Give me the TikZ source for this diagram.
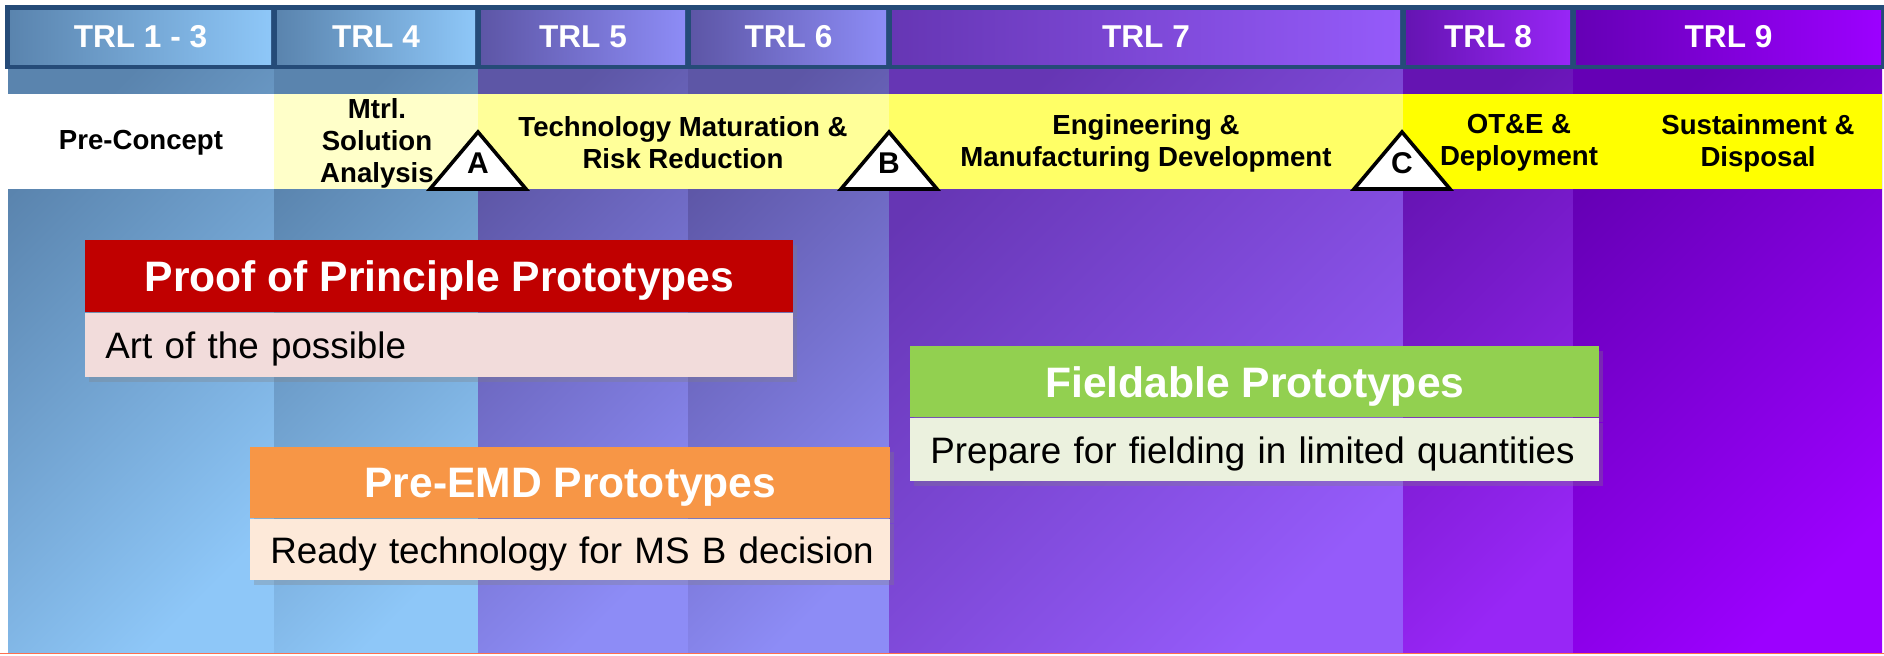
\documentclass[tikz,border=0pt]{standalone}
\usepackage{fontspec}
\setmainfont{Liberation Sans}
\usetikzlibrary{shadows}
\definecolor{hdrline}{HTML}{254B78}
\definecolor{blueA}{HTML}{5A84AE}
\definecolor{blueB}{HTML}{8EC7F8}
\definecolor{indA}{HTML}{5D56A6}
\definecolor{indB}{HTML}{8D8CF6}
\definecolor{purA}{HTML}{6636B4}
\definecolor{purB}{HTML}{955BFA}
\definecolor{vioA}{HTML}{6514B2}
\definecolor{vioB}{HTML}{9826F6}
\definecolor{magA}{HTML}{6500B5}
\definecolor{magB}{HTML}{9C00FF}
\definecolor{pale1}{HTML}{FFFFC9}
\definecolor{pale2}{HTML}{FFFF99}
\definecolor{pale3}{HTML}{FFFF66}
\definecolor{pale4}{HTML}{FFFF00}
\definecolor{popred}{HTML}{C00000}
\definecolor{poppink}{HTML}{F2DCDB}
\definecolor{emdorange}{HTML}{F79646}
\definecolor{emdpeach}{HTML}{FDE9D9}
\definecolor{fldgreen}{HTML}{92D050}
\definecolor{fldpale}{HTML}{EBF1DE}
\definecolor{edgeorange}{HTML}{FF6F4F}
\tikzset{
  trltext/.style={text=white, font=\bfseries\fontsize{15.8}{18}\selectfont},
  phasetext/.style={align=center, font=\bfseries\fontsize{13.8}{16}\selectfont},
  milestone/.style={draw=black, fill=white, line width=1.8pt, line join=miter},
  mslabel/.style={font=\bfseries\fontsize{15}{18}\selectfont},
  boxshadow/.style={drop shadow={shadow xshift=2pt, shadow yshift=-2.5pt, opacity=0.3}},
  protitle/.style={anchor=north west, inner sep=0pt, text=white, text depth=0pt, boxshadow,
    font=\bfseries\fontsize{21.3}{25}\selectfont},
  probody/.style={anchor=north west, inner xsep=10pt, inner ysep=0pt, align=left,
    text depth=0pt, boxshadow, font=\fontsize{18.4}{22}\selectfont}
}
\begin{document}
\begin{tikzpicture}[x=0.5pt, y=-0.5pt]
  \useasboundingbox (0,0) rectangle (1884,655);
  % columns under the header
  \foreach \xa/\xb/\ca/\cb in {8/274/blueA/blueB, 274/478/blueA/blueB,
      478/688/indA/indB, 688/889/indA/indB, 889/1403/purA/purB,
      1403/1573/vioA/vioB, 1573/1882/magA/magB}
    \shade[top color=\ca, bottom color=\cb, shading angle=45] (\xa,69) rectangle (\xb,652);
  % header bar with TRL cells
  \fill[hdrline] (5,5) rectangle (1884,69);
  \foreach \xa/\xb/\ca/\cb/\lab [count=\i] in {7/274/blueA/blueB/TRL 1 - 3,
      274/478/blueA/blueB/TRL 4, 478/688/indA/indB/TRL 5, 688/889/indA/indB/TRL 6,
      889/1403/purA/purB/TRL 7, 1403/1573/vioA/vioB/TRL 8, 1573/1884/magA/magB/TRL 9}
  {
    \shade[left color=\ca, right color=\cb] (\xa+3,10) rectangle (\xb-3,64);
    \node[trltext] (trl\i) at ({(\xa+\xb)/2},37) {\lab};
  }
  % phase band
  \foreach \xa/\xb/\cc in {8/274/white, 274/478/pale1, 478/889/pale2,
      889/1403/pale3, 1403/1882/pale4}
    \fill[\cc] (\xa,94) rectangle (\xb,189);
  \node[phasetext] (prec) at (141,143) {Pre-Concept};
  \node[phasetext] (msa) at (377,143) {Mtrl.\\Solution\\Analysis};
  \node[phasetext] (tmrr) at (683,143) {Technology Maturation \&\\Risk Reduction};
  \node[phasetext] (emd) at (1146,143) {Engineering \&\\Manufacturing Development};
  \node[phasetext] (otd) at (1519,143) {OT\&E \&\\Deployment};
  \node[phasetext] (sd) at (1758,143) {Sustainment \&\\Disposal};
  % milestones
  \foreach \m/\x in {A/478, B/889, C/1402}
  {
    \draw[milestone] (\x-48,189) -- (\x,132) -- (\x+48,189) -- cycle;
    \node[mslabel] (ms\m) at (\x,163) {\m};
  }
  % prototype boxes
  \node[protitle, fill=popred, minimum width=354pt, minimum height=36pt] (poptitle) at (85,240)
    {Proof of Principle Prototypes};
  \node[probody, fill=poppink, text width=334pt, minimum height=32pt] (popbody) at (poptitle.south west)
    {\mbox{Art of the possible}};
  \node[protitle, fill=emdorange, minimum width=320pt, minimum height=35.5pt] (emdtitle) at (250,447)
    {Pre-EMD Prototypes};
  \node[probody, fill=emdpeach, text width=300pt, minimum height=30.5pt] (emdbody) at (emdtitle.south west)
    {\mbox{Ready technology for MS B decision}};
  \node[protitle, fill=fldgreen, minimum width=344.5pt, minimum height=35.5pt] (fldtitle) at (910,346)
    {Fieldable Prototypes};
  \node[probody, fill=fldpale, text width=324.5pt, minimum height=31.5pt] (fldbody) at (fldtitle.south west)
    {\mbox{Prepare for fielding in limited quantities}};
  % bottom edge
  \draw[edgeorange, line width=0.8pt] (0,653.5) -- (1884,653.5);
\end{tikzpicture}
\end{document}
